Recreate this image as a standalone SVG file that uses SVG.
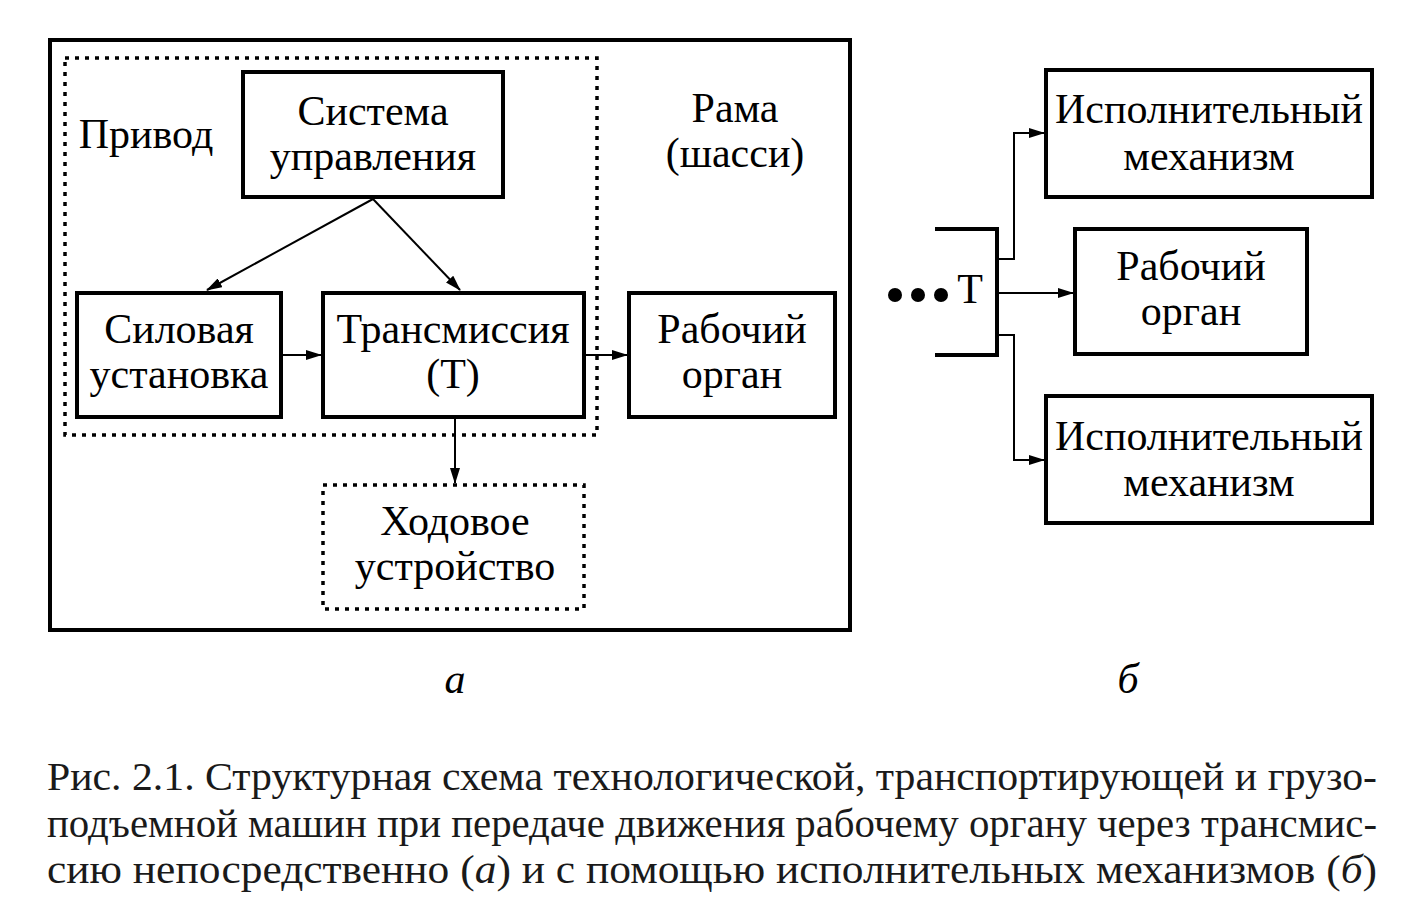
<svg xmlns="http://www.w3.org/2000/svg" width="1415" height="905" viewBox="0 0 1415 905">
<defs>
<marker id="ah" markerWidth="16" markerHeight="10" refX="15" refY="5" orient="auto" markerUnits="userSpaceOnUse">
<path d="M0,0 L16,5 L0,10 Z" fill="#000"/>
</marker>
<style>
.box{fill:none;stroke:#000;stroke-width:4}
.dot{fill:none;stroke:#000;stroke-width:3.5;stroke-dasharray:4 6}
.conn{fill:none;stroke:#000;stroke-width:2}
.t{font-family:"Liberation Serif","Times New Roman",serif;font-size:42px;fill:#000;text-anchor:middle}
.cap{font-family:"Liberation Serif","Times New Roman",serif;font-size:41px;fill:#1a1a1a}
</style>
</defs>
<rect width="1415" height="905" fill="#fff"/>
<g id="frame">
<rect class="box" x="50" y="40" width="800" height="590"/>
<text class="t" x="735" y="122">Рама</text>
<text class="t" x="735" y="167">(шасси)</text>
</g>
<g id="privod">
<rect class="dot" x="65" y="58" width="532" height="377"/>
<text class="t" x="146" y="148">Привод</text>
</g>
<g id="sys">
<rect class="box" x="243" y="72" width="260" height="125"/>
<text class="t" x="373" y="125">Система</text>
<text class="t" x="373" y="170">управления</text>
</g>
<g id="silovaya">
<rect class="box" x="77" y="293" width="204" height="124"/>
<text class="t" x="179" y="343">Силовая</text>
<text class="t" x="179" y="388">установка</text>
</g>
<g id="trans">
<rect class="box" x="323" y="293" width="261" height="124"/>
<text class="t" x="453" y="343">Трансмиссия</text>
<text class="t" x="453" y="388">(Т)</text>
</g>
<g id="rab_a">
<rect class="box" x="629" y="293" width="206" height="124"/>
<text class="t" x="732" y="343">Рабочий</text>
<text class="t" x="732" y="388">орган</text>
</g>
<g id="hod">
<rect class="dot" x="323" y="485" width="261" height="124"/>
<text class="t" x="455" y="535">Ходовое</text>
<text class="t" x="455" y="580">устройство</text>
</g>
<g id="tnode">
<path class="box" d="M935,229 H997 V355 H935"/>
<circle cx="895" cy="295" r="7"/>
<circle cx="918" cy="295" r="7"/>
<circle cx="941" cy="295" r="7"/>
<text class="t" x="970" y="303">Т</text>
</g>
<g id="isp1">
<rect class="box" x="1046" y="70" width="326" height="127"/>
<text class="t" x="1209" y="123">Исполнительный</text>
<text class="t" x="1209" y="170">механизм</text>
</g>
<g id="rab_b">
<rect class="box" x="1075" y="229" width="232" height="125"/>
<text class="t" x="1191" y="280">Рабочий</text>
<text class="t" x="1191" y="325">орган</text>
</g>
<g id="isp2">
<rect class="box" x="1046" y="396" width="326" height="127"/>
<text class="t" x="1209" y="450">Исполнительный</text>
<text class="t" x="1209" y="496">механизм</text>
</g>
<g id="connectors">
<line class="conn" x1="373" y1="199" x2="207" y2="290" marker-end="url(#ah)"/>
<line class="conn" x1="373" y1="199" x2="460" y2="290" marker-end="url(#ah)"/>
<line class="conn" x1="281" y1="355" x2="321" y2="355" marker-end="url(#ah)"/>
<line class="conn" x1="584" y1="355" x2="627" y2="355" marker-end="url(#ah)"/>
<line class="conn" x1="455" y1="417" x2="455" y2="483" marker-end="url(#ah)"/>
<path class="conn" d="M997,259 H1014 V133 H1044" marker-end="url(#ah)"/>
<line class="conn" x1="997" y1="293" x2="1073" y2="293" marker-end="url(#ah)"/>
<path class="conn" d="M997,335 H1014 V460 H1044" marker-end="url(#ah)"/>
</g>
<g id="labels">
<text class="t" x="455" y="693" font-style="italic">а</text>
<text class="t" x="1128" y="693" font-style="italic">б</text>
</g>
<g id="caption">
<text class="cap" x="47" y="790" textLength="1330" lengthAdjust="spacingAndGlyphs">Рис. 2.1. Структурная схема технологической, транспортирующей и грузо-</text>
<text class="cap" x="47" y="837" textLength="1330" lengthAdjust="spacingAndGlyphs">подъемной машин при передаче движения рабочему органу через трансмис-</text>
<text class="cap" x="47" y="883" textLength="1330" lengthAdjust="spacingAndGlyphs">сию непосредственно (<tspan font-style="italic">а</tspan>) и с помощью исполнительных механизмов (<tspan font-style="italic">б</tspan>)</text>
</g>
</svg>
